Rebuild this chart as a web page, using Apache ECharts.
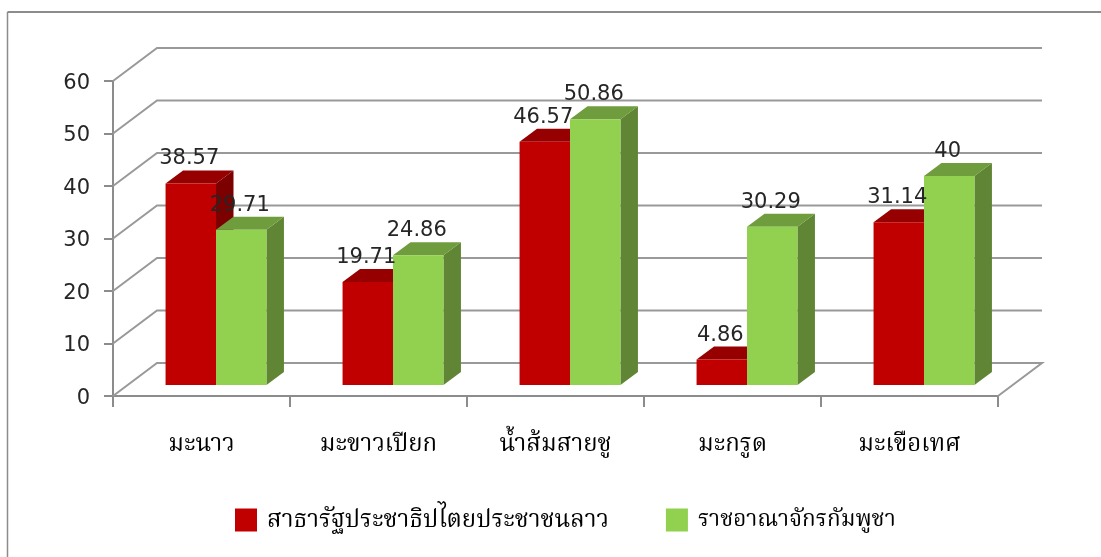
<!DOCTYPE html>
<html><head><meta charset="utf-8">
<style>html,body{margin:0;padding:0;background:#fff}#c{width:1101px;height:557px}</style>
<script src="https://cdn.jsdelivr.net/npm/echarts@6/dist/echarts.min.js"></script>
</head><body><div id="c"></div>
<script>
const categories = ['มะนาว','มะขาวเปียก','น้ำส้มสายชู','มะกรูด','มะเขือเทศ'];
const laoValues = [38.57,19.71,46.57,4.86,31.14];
const cambodiaValues = [29.71,24.86,50.86,30.29,40];
const laoName = 'สาธารัฐประชาธิปไตยประชาชนลาว';
const cambodiaName = 'ราชอาณาจักรกัมพูชา';
const wallTicks = [0,10,20,30,40,50,60];

const depthX = 44, depthY = 33;
const barShiftX = 14.5, barShiftY = 11;
const barDepthX = 17.5, barDepthY = 13;
const barWidthFrac = 0.285;
const barScale = 0.995;
const thai = '"Noto Sans","Noto Serif Thai","Liberation Serif","DejaVu Sans",sans-serif';
const num = '"DejaVu Sans",sans-serif';

function barSeries(name, values, offsetIdx, front, side, top){
  return {
    type:'custom', name, coordinateSystem:'cartesian2d', encode:{x:0,y:1},
    itemStyle:{color:front},
    data: values.map((v,i)=>[i,v]),
    renderItem(params, api){
      const base = api.coord([api.value(0),0]);
      const tip = api.coord([api.value(0),api.value(1)]);
      const w = api.size([1,0])[0]*barWidthFrac;
      const x0 = base[0]+barShiftX+(offsetIdx-1)*w;
      const x1 = x0+w;
      const yb = base[1]-barShiftY, yt = yb-(base[1]-tip[1])*barScale;
      return {type:'group',children:[
        {type:'polygon',shape:{points:[[x1,yb],[x1+barDepthX,yb-barDepthY],[x1+barDepthX,yt-barDepthY],[x1,yt]]},style:{fill:side}},
        {type:'polygon',shape:{points:[[x0,yt],[x1,yt],[x1+barDepthX,yt-barDepthY],[x0+barDepthX,yt-barDepthY]]},style:{fill:top}},
        {type:'rect',shape:{x:x0,y:yt,width:w,height:yb-yt},style:{fill:front}},
        {type:'text',z2:100,style:{x:(x0+x1)/2-1.5,y:yt-barDepthY-1,text:String(api.value(1)),
          align:'center',verticalAlign:'bottom',fill:'#262626',font:'21px '+num}}
      ]};
    }
  };
}

const chart = echarts.init(document.getElementById('c'),null,{renderer:'canvas'});
chart.setOption({
  animation:false,
  backgroundColor:'#fff',
  graphic:[
    {type:'line',shape:{x1:7.5,y1:12,x2:1101,y2:12},style:{stroke:'#8c8c8c',lineWidth:2}},
    {type:'line',shape:{x1:7.5,y1:12,x2:7.5,y2:557},style:{stroke:'#8c8c8c',lineWidth:1.5}}
  ],
  grid:{left:113,top:81,width:885,height:315},
  legend:{
    left:235,top:508,padding:0,itemWidth:22,itemHeight:23,itemGap:57,icon:'rect',
    textStyle:{fontFamily:thai,fontSize:24,color:'#000',padding:[0,0,0,5]},
    data:[laoName,{name:cambodiaName,textStyle:{fontFamily:thai,fontSize:22.5,color:'#000',padding:[0,0,0,5]}}]
  },
  xAxis:{type:'category',data:categories,boundaryGap:true,
    axisLine:{lineStyle:{color:'#8c8c8c',width:2}},
    axisTick:{show:true,alignWithLabel:false,length:11,lineStyle:{color:'#8c8c8c',width:2}},
    axisLabel:{fontFamily:thai,fontSize:24,color:'#000',margin:36}},
  yAxis:{type:'value',min:0,max:60,interval:10,
    axisLine:{show:true,lineStyle:{color:'#8c8c8c',width:2}},
    axisTick:{show:true,length:9,lineStyle:{color:'#8c8c8c',width:2}},
    splitLine:{show:false},
    axisLabel:{fontFamily:num,fontSize:21,color:'#262626',margin:23,verticalAlign:'top',lineHeight:5}},
  series:[
    {type:'custom',name:'walls',silent:true,legendHoverLink:false,coordinateSystem:'cartesian2d',
     encode:{x:0,y:1},data:wallTicks.map(t=>[0,t]),z:1,
     renderItem(params,api){
       const band = api.size([1,0])[0];
       const p = api.coord([0,api.value(1)]);
       const x = p[0]-band/2, width = band*categories.length;
       const pts = [[x,p[1]],[x+depthX,p[1]-depthY],[x+depthX+width,p[1]-depthY]];
       if(api.value(1)===0) pts.push([x+width,p[1]]);
       return {type:'polyline',shape:{points:pts},style:{fill:'none',stroke:'#999',lineWidth:2}};
     }},
    barSeries(laoName,laoValues,0,'#c00000','#7d0000','#960000'),
    barSeries(cambodiaName,cambodiaValues,1,'#92d050','#5f8535','#6f9c3c')
  ]
});
</script></body></html>
